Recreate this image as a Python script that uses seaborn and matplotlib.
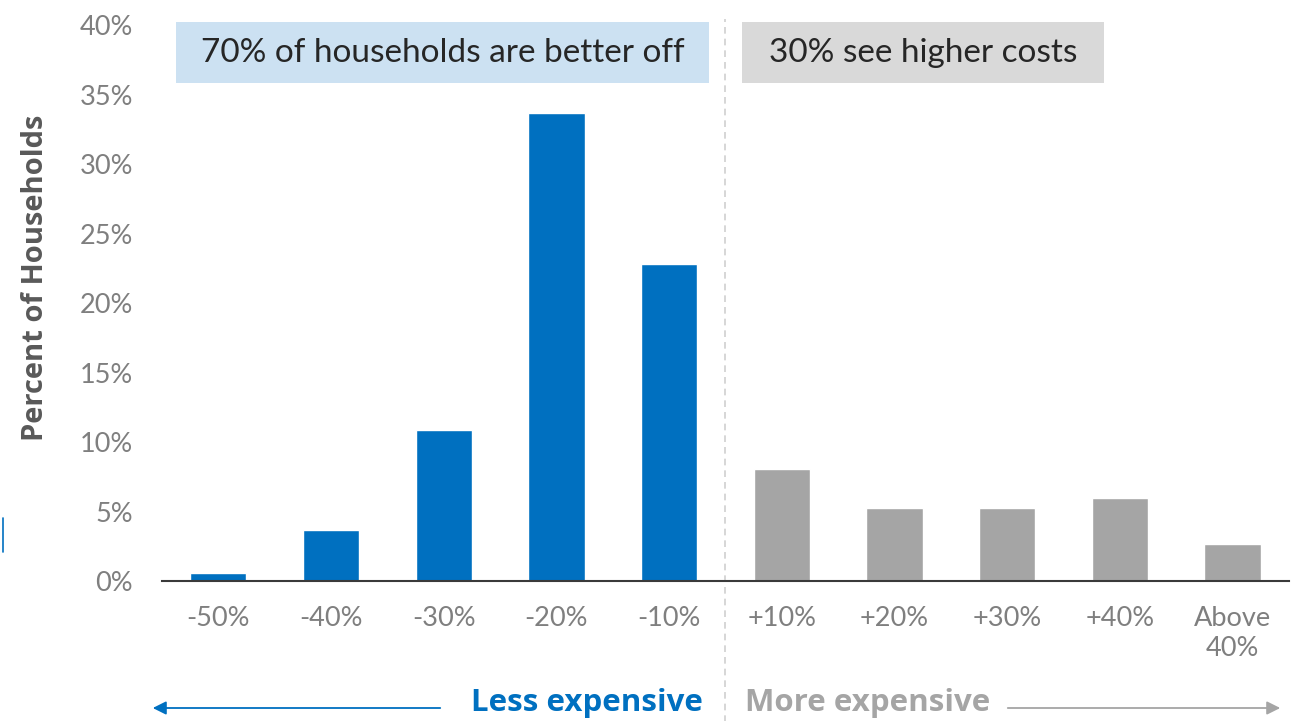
import matplotlib
matplotlib.use("Agg")
import matplotlib.pyplot as plt
import seaborn as sns
import pandas as pd

# Change in household costs, share of households per bucket
categories = ["-50%", "-40%", "-30%", "-20%", "-10%",
              "+10%", "+20%", "+30%", "+40%", "Above\n40%"]
share_pct = [0.6, 3.7, 10.85, 33.7, 22.8, 8.1, 5.25, 5.25, 6.0, 2.65]
side = ["less"] * 5 + ["more"] * 5
y_ticks = [0, 5, 10, 15, 20, 25, 30, 35, 40]

BLUE = "#0070C0"
GREY = "#A5A5A5"
BOX_BLUE = "#CCE1F2"
BOX_GREY = "#D9D9D9"

sns.set_theme(style="white")
plt.rcParams["font.family"] = ["Lato", "DejaVu Sans"]

df = pd.DataFrame({"bucket": categories, "share": share_pct, "side": side})

fig = plt.figure(figsize=(13.02, 7.21), dpi=100)
ax = fig.add_axes([0.1244, 0.194, 0.8656, 0.7713])

sns.barplot(data=df, x="bucket", y="share", hue="side",
            palette={"less": BLUE, "more": GREY}, width=0.5,
            dodge=False, legend=False, saturation=1, ax=ax)

ax.set_xlim(-0.5, 9.5)
ax.set_ylim(0, 40)
ax.set_yticks(y_ticks)
ax.set_yticklabels([f"{t}%" for t in y_ticks])
ax.tick_params(axis="y", labelsize=19.5, colors="#7F7F7F", length=0, pad=21)
ax.tick_params(axis="x", labelsize=19.5, colors="#7F7F7F", length=0, pad=18)
for lbl in ax.get_xticklabels():
    lbl.set_linespacing(1.25)
    lbl.set_verticalalignment("top")
ax.set_xlabel("")
ax.set_ylabel("Percent of Households", fontsize=21, fontweight="bold",
              color="#595959", family=["Open Sans", "DejaVu Sans"])
ax.yaxis.set_label_coords(-0.099, 0.546)

for s in ["top", "right", "left"]:
    ax.spines[s].set_visible(False)
ax.spines["bottom"].set_color("#3A3A3A")
ax.spines["bottom"].set_linewidth(1.5)

# Divider between cheaper and costlier buckets
ax.plot([4.5, 4.5], [-10.2, 40.4], color="#D0D0D0", lw=1.2,
        ls=(0, (4, 3)), clip_on=False, zorder=0)

# Header boxes
ax.add_patch(plt.Rectangle((-0.372, 35.8), 4.725, 4.4, facecolor=BOX_BLUE,
                           edgecolor="none", clip_on=False, zorder=0))
ax.text(1.99, 38.0, "70% of households are better off", ha="center",
        va="center", fontsize=24, color="#262626")
ax.add_patch(plt.Rectangle((4.645, 35.8), 3.21, 4.4, facecolor=BOX_GREY,
                           edgecolor="none", clip_on=False, zorder=0))
ax.text(6.25, 38.0, "30% see higher costs", ha="center", va="center",
        fontsize=24, color="#262626")

# Direction arrows below the axis
bold_font = ["Open Sans", "DejaVu Sans"]
fig.text(703 / 1302, 1 - 703 / 721, "Less expensive", ha="right", va="center",
         fontsize=22.5, fontweight="bold", color=BLUE, family=bold_font)
fig.text(745 / 1302, 1 - 703 / 721, "More expensive", ha="left", va="center",
         fontsize=22.5, fontweight="bold", color="#A5A5A5", family=bold_font)
fig.add_artist(matplotlib.patches.FancyArrowPatch(
    (443 / 1302, 1 - 708 / 721), (150 / 1302, 1 - 708 / 721),
    transform=fig.transFigure, arrowstyle="-|>,head_length=8,head_width=4",
    color=BLUE, lw=1.3, mutation_scale=1))
fig.add_artist(matplotlib.patches.FancyArrowPatch(
    (1005 / 1302, 1 - 708 / 721), (1283 / 1302, 1 - 708 / 721),
    transform=fig.transFigure, arrowstyle="-|>,head_length=8,head_width=4",
    color="#A5A5A5", lw=1.3, mutation_scale=1))

# Thin blue mark at the far left edge
fig.add_artist(matplotlib.lines.Line2D(
    [3 / 1302, 3 / 1302], [1 - 518 / 721, 1 - 552 / 721],
    transform=fig.transFigure, color=BLUE, lw=1.2))

fig.savefig("out.png", dpi=100)
